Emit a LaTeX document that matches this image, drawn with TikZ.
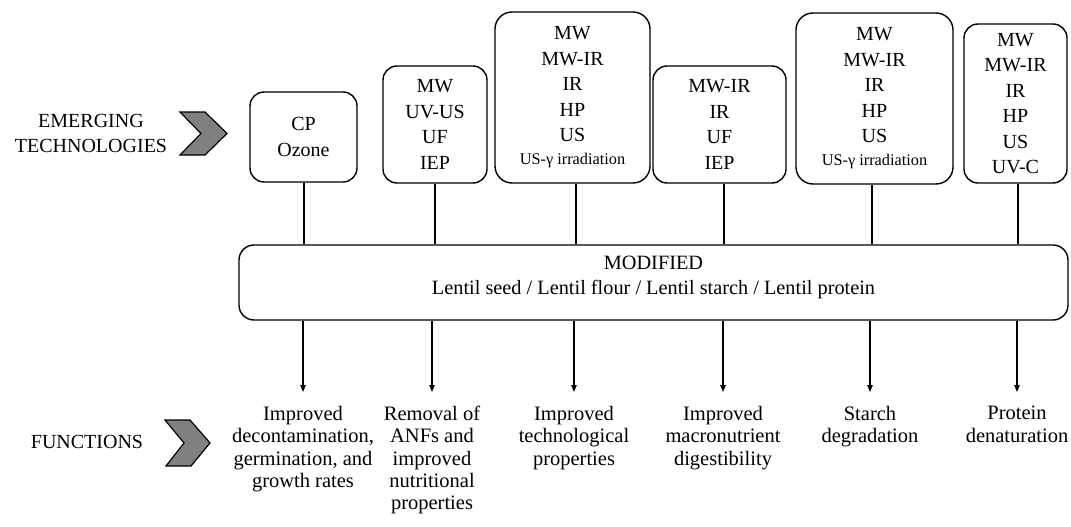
\documentclass[tikz,border=0pt]{standalone}
\usepackage{fontspec}
\setmainfont{Liberation Serif}
\usetikzlibrary{arrows.meta}
\begin{document}
\begin{tikzpicture}[x=1pt,y=-1pt,
  tech/.style={draw, line width=1.4pt, rounded corners=14pt, align=center,
    font=\fontsize{20}{25.5}\selectfont, inner sep=0pt},
  bigtech/.style={tech, rounded corners=17pt},
  func/.style={align=center, font=\fontsize{20.5}{22.3}\selectfont, inner sep=0pt, anchor=north},
  lbl/.style={align=center, font=\fontsize{20}{25}\selectfont, inner sep=0pt},
  conn/.style={line width=1.3pt},
  arr/.style={line width=1.1pt, -{Triangle[length=7pt,width=5.5pt]}},
  chev/.style={draw, fill=gray, line width=1.2pt, line join=miter}]
\useasboundingbox (0,0) rectangle (1071,527);

% left labels and chevrons
\node[lbl] (emerg) at (91,133.5) {EMERGING\\TECHNOLOGIES};
\node[lbl, anchor=base] (funcs) at (87,448) {FUNCTIONS};
\draw[chev] (180,112) -- (205,112) -- (227,133.5) -- (205,155) -- (180,155) -- (201,133.5) -- cycle;
\draw[chev] (165,420) -- (190,420) -- (210,443) -- (191,466) -- (166,466) -- (184,443) -- cycle;

% technology boxes
\node[tech, minimum width=107pt, minimum height=90pt] (b1) at (303.5,137) {CP\\Ozone};
\node[tech, minimum width=104pt, minimum height=117pt] (b2) at (435,124.5) {MW\\UV-US\\UF\\IEP};
\node[bigtech, minimum width=155pt, minimum height=171pt] (b3) at (572.5,97.5)
  {MW\\MW-IR\\IR\\HP\\US\\[-2.5pt]{\fontsize{16.3}{20}\selectfont US-γ irradiation}};
\node[tech, minimum width=133pt, minimum height=117pt] (b4) at (719.5,124.5) {MW-IR\\IR\\UF\\IEP};
\node[bigtech, minimum width=157pt, minimum height=171pt] (b5) at (874.5,98.5)
  {MW\\MW-IR\\IR\\HP\\US\\[-2.5pt]{\fontsize{16.3}{20}\selectfont US-γ irradiation}};
\node[tech, minimum width=103pt, minimum height=159pt] (b6) at (1015.5,103.5) {MW\\MW-IR\\IR\\HP\\US\\UV-C};

% modified box
\node[draw, line width=1.4pt, rounded corners=15pt, minimum width=829pt, minimum height=75pt, inner sep=0pt] (mod) at (653.5,282.5) {};
\node[align=center, font=\fontsize{20.3}{25}\selectfont, inner sep=0pt] (modtxt) at (653.5,277.5)
  {MODIFIED\\Lentil seed / Lentil flour / Lentil starch / Lentil protein};

% connectors from boxes
\draw[conn] ([xshift=0.5pt]b1.south) -- ([xshift=0.5pt]b1.south |- mod.north);
\draw[conn] (b2.south) -- (b2.south |- mod.north);
\draw[conn] ([xshift=3.5pt]b3.south) -- ([xshift=3.5pt]b3.south |- mod.north);
\draw[conn] ([xshift=4.5pt]b4.south) -- ([xshift=4.5pt]b4.south |- mod.north);
\draw[conn] ([xshift=-2.5pt]b5.south) -- ([xshift=-2.5pt]b5.south |- mod.north);
\draw[conn] ([xshift=2.5pt]b6.south) -- ([xshift=2.5pt]b6.south |- mod.north);

% functions
\node[func] (f1) at (303,406) {Improved\\decontamination,\\germination, and\\growth rates};
\node[func] (f2) at (432,406) {Removal of\\ANFs and\\improved\\nutritional\\properties};
\node[func] (f3) at (574,406) {Improved\\technological\\properties};
\node[func] (f4) at (723,406) {Improved\\macronutrient\\digestibility};
\node[func] (f5) at (870,406) {Starch\\degradation};
\node[func] (f6) at (1017,406) {Protein\\denaturation};

\foreach \f in {f1,f2,f3,f4,f5,f6}
  \draw[arr] (\f.north |- mod.south) -- ([yshift=14pt]\f.north);
\end{tikzpicture}
\end{document}
